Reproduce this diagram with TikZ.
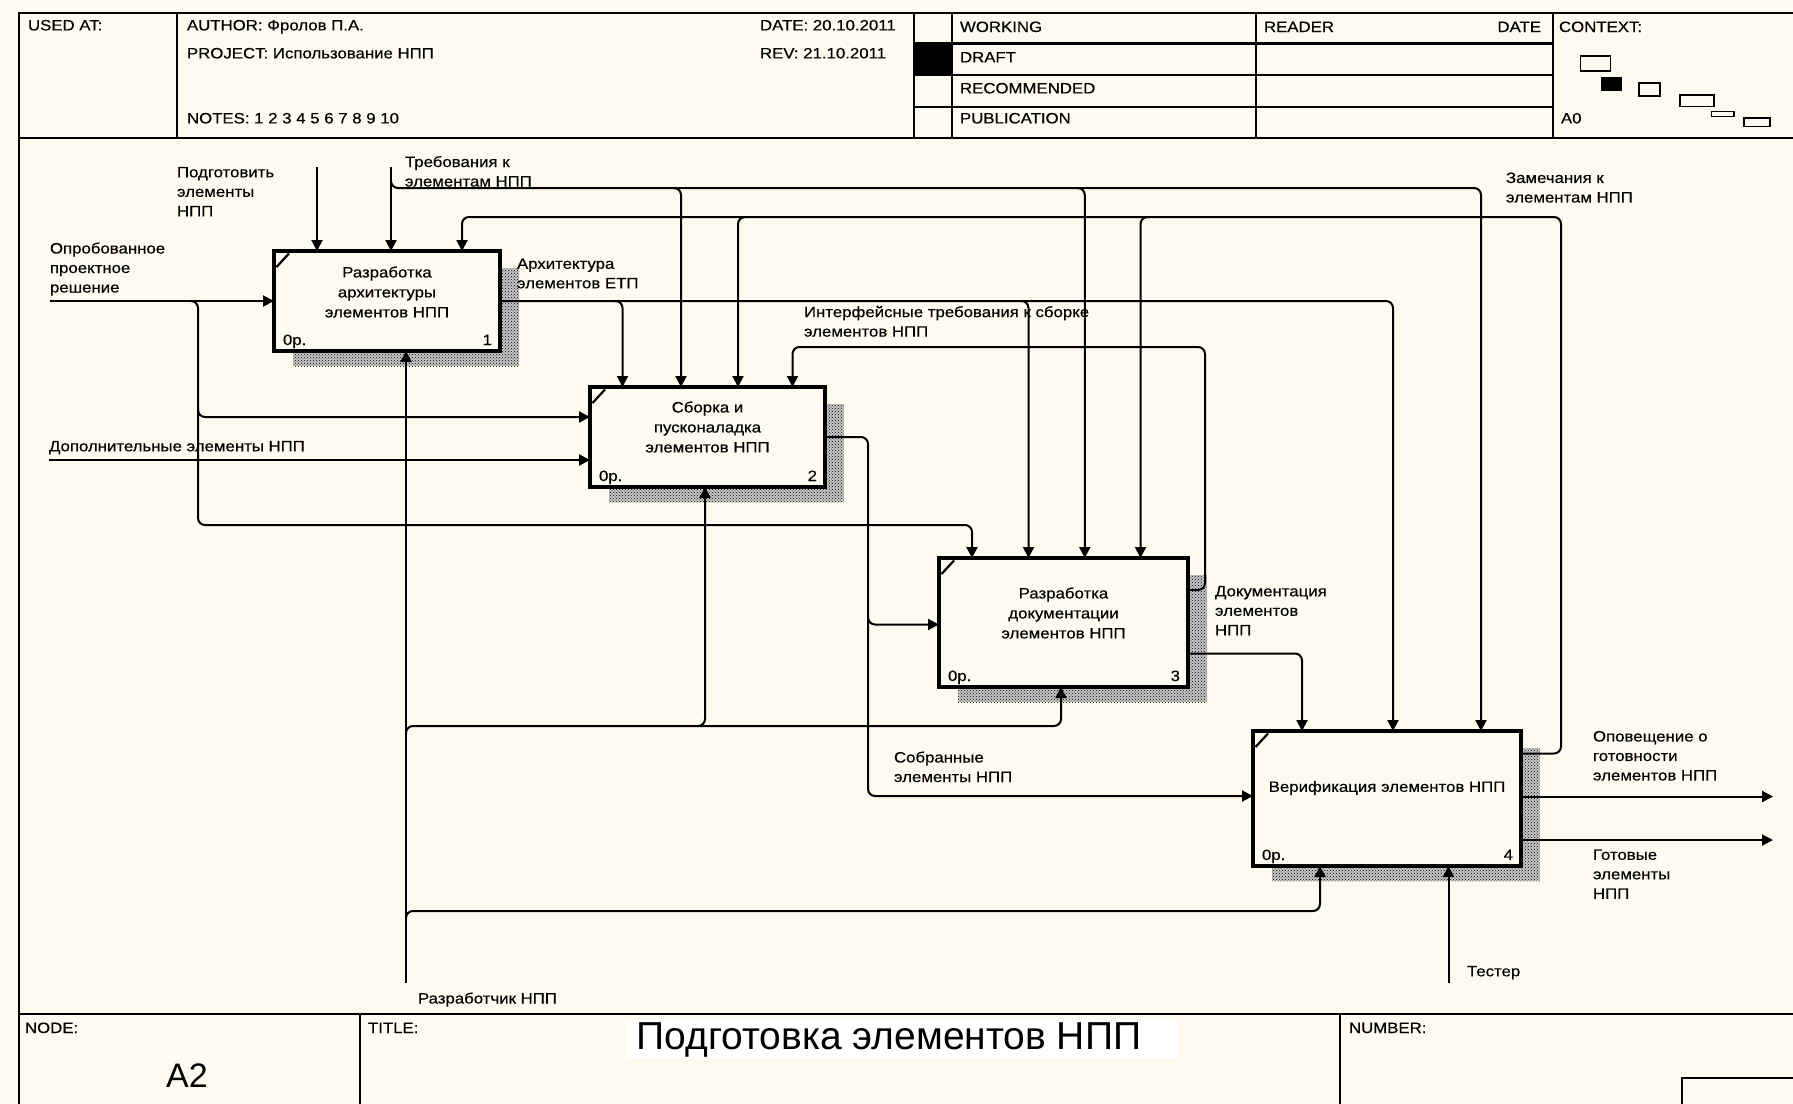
\documentclass[tikz,border=0pt]{standalone}
\usepackage{fontspec}
\setmainfont[FakeStretch=1.12,FakeBold=0.4]{Liberation Sans}
\newfontfamily\titlefont{Liberation Sans}
\usetikzlibrary{arrows.meta,patterns,calc}
\definecolor{paper}{RGB}{253,251,240}
\pgfdeclarelayer{bg}
\pgfdeclarelayer{shade}
\pgfsetlayers{bg,shade,main}
\begin{document}
\begin{tikzpicture}[x=1pt,y=-1pt,
  every node/.style={inner sep=0pt,outer sep=0pt},
  lbl/.style={font=\fontsize{15}{19.5}\selectfont,align=left,anchor=north west},
  boxtxt/.style={font=\fontsize{15}{20}\selectfont,align=center},
  hdr/.style={font=\fontsize{15}{18}\selectfont,anchor=base west},
  conn/.style={line width=2pt,rounded corners=7pt},
  arr/.style={conn,-{Triangle[length=11pt,width=11pt]}},
  frameline/.style={line width=2.2pt},
  ctxbox/.style={line width=1.4pt},
  fbox/.style 2 args={draw,line width=3.8pt,fill=paper,minimum width=#1,minimum height=#2}]
\useasboundingbox (0,0) rectangle (1793,1103);
\begin{pgfonlayer}{bg}
\fill[paper] (0,0) rectangle (1793,1103);
\fill[white] (627,1021) rectangle (1178,1058);
\end{pgfonlayer}

% frame
\begin{scope}
\clip (0,0) rectangle (1793,1103);
\draw[frameline] (1800,13) -- (19,13) -- (19,1110);
\draw[frameline] (19,138) -- (1800,138);
\draw[frameline] (19,1014) -- (1800,1014);
\draw[frameline] (177,13) -- (177,138);
\draw[frameline] (914,13) -- (914,138);
\draw[frameline] (952,13) -- (952,138);
\draw[frameline] (1256,13) -- (1256,138);
\draw[frameline] (1553,13) -- (1553,138);
\draw[frameline] (914,43.5) -- (1553,43.5);
\draw[frameline] (914,75) -- (1553,75);
\draw[frameline] (914,107) -- (1553,107);
\fill (914,43.5) rectangle (952,75);
\draw[frameline] (360,1014) -- (360,1110);
\draw[frameline] (1340,1014) -- (1340,1110);
\draw[frameline] (1682,1110) -- (1682,1078) -- (1800,1078);
\end{scope}
% context
\draw[ctxbox] (1580.5,56) rectangle (1610.5,71);
\fill (1600.5,77) rectangle (1622,90.5);
\draw[ctxbox] (1639,83) rectangle (1660,96);
\draw[ctxbox] (1680,95) rectangle (1714,106.5);
\draw[ctxbox] (1711.5,111.5) rectangle (1734,116.5);
\draw[ctxbox] (1744,118) rectangle (1770,126.5);

% header texts
\node[hdr] (hUsed) at (28,30.4) {USED AT:};
\node[hdr] (hAuth) at (187,30.4) {AUTHOR: Фролов П.А.};
\node[hdr] (hProj) at (187,58.4) {PROJECT: Использование НПП};
\node[hdr] (hNotes) at (187,123.4) {NOTES: 1 2 3 4 5 6 7 8 9 10};
\node[hdr] (hDate) at (760,30.4) {DATE: 20.10.2011};
\node[hdr] (hRev) at (760,58.4) {REV: 21.10.2011};
\node[hdr] (hWork) at (960,32) {WORKING};
\node[hdr] (hDraft) at (960,62.4) {DRAFT};
\node[hdr] (hRec) at (960,93.4) {RECOMMENDED};
\node[hdr] (hPub) at (960,123.4) {PUBLICATION};
\node[hdr] (hRead) at (1264,32) {READER};
\node[hdr,anchor=base east] (hDate2) at (1541,32) {DATE};
\node[hdr] (hCtx) at (1559,32) {CONTEXT:};
\node[hdr] (hA0) at (1561,123.4) {A0};
\node[hdr] (hNode) at (25,1033) {NODE:};
\node[hdr] (hTitle) at (368,1033) {TITLE:};
\node[hdr] (hNum) at (1349,1033) {NUMBER:};
\node[font=\titlefont\fontsize{34}{40}\selectfont] (nA2) at (187,1076) {A2};
\node[font=\titlefont\fontsize{39}{44}\selectfont] (title) at (889,1040) {Подготовка элементов НПП};

% boxes
\node[fbox={226pt}{100pt}] (b1) at (387,301) {};
\node[fbox={235pt}{100pt}] (b2) at (707.5,437) {};
\node[fbox={249pt}{129pt}] (b3) at (1063.5,622.5) {};
\node[fbox={268pt}{135pt}] (b4) at (1387,798.5) {};
\begin{pgfonlayer}{shade}
\foreach \b in {b1,b2,b3,b4}{
  \fill[black!22] ($(\b.north west)+(19,17)$) rectangle ($(\b.south east)+(19,15)$);
  \fill[pattern=crosshatch dots,pattern color=black] ($(\b.north west)+(19,17)$) rectangle ($(\b.south east)+(19,15)$);
}
\end{pgfonlayer}
\foreach \b/\n in {b1/1,b2/2,b3/3,b4/4}{
  \draw[line width=2.2pt] ($(\b.north west)+(2.5,16)$) -- ($(\b.north west)+(15,2.5)$);
  \node[font=\fontsize{15}{18}\selectfont,anchor=base west] at ($(\b.south west)+(9,-6)$) {0р.};
  \node[font=\fontsize{15}{18}\selectfont,anchor=base east] at ($(\b.south east)+(-8,-6)$) {\n};
}
\node[boxtxt] (t1) at (387,292) {Разработка\\архитектуры\\элементов НПП};
\node[boxtxt] (t2) at (707.5,427) {Сборка и\\пусконаладка\\элементов НПП};
\node[boxtxt] (t3) at (1063.5,613) {Разработка\\документации\\элементов НПП};
\node[boxtxt] (t4) at (1387,788) {Верификация элементов НПП};

% free ends
\coordinate (sOpr) at (50,301);
\coordinate (sDop) at (49,460);
\coordinate (sPod) at (317,167);
\coordinate (sTreb) at (391,167);
\coordinate (sDev) at (406,983);
\coordinate (sTest) at (1448.5,983);
\coordinate (oOpov) at (1773,796.5);
\coordinate (oGot) at (1773,840);

% inputs
\draw[arr] (sOpr) -- (b1.west);
\draw[arr] (190,301) -| (198,525) -| ([xshift=-91.5pt]b3.north);
\draw[arr] (198,409) |- ([yshift=20pt]b2.west);
\draw[arr] (sDop) -- ([yshift=-23pt]b2.west);
% controls
\draw[arr] (sPod) -- ([xshift=-70pt]b1.north);
\draw[arr] (sTreb) -- ([xshift=4pt]b1.north);
\draw[arr] (391,180) |- (1481,188) -- ([xshift=94pt]b4.north);
\draw[arr] (673,188) -| ([xshift=-26.5pt]b2.north);
\draw[arr] (1077,188) -| ([xshift=21.3pt]b3.north);
% feedback remarks
\draw[arr] ([yshift=45pt]b4.east) -| (1561,217) -| ([xshift=75pt]b1.north);
\draw[arr] (746,217) -| ([xshift=30.5pt]b2.north);
\draw[arr] (1150,217) -| ([xshift=77pt]b3.north);
% architecture
\draw[arr] (b1.east) -| ([xshift=6pt]b4.north);
\draw[arr] (613,301) -| ([xshift=-85pt]b2.north);
\draw[arr] (1021,301) -| ([xshift=-35pt]b3.north);
% interface requirements
\draw[arr] ([yshift=32.5pt]b3.east) -| (1205,347) -| ([xshift=85pt]b2.north);
% assembled
\draw[arr] (b2.east) -| (868,796) -- ([yshift=2.5pt]b4.west);
\draw[arr] (868,617) |- ([yshift=-2pt]b3.west);
% documentation
\draw[arr] ([yshift=-31pt]b3.east) -| ([xshift=-85pt]b4.north);
% developer
\draw[arr] (sDev) -- ([xshift=19pt]b1.south);
\draw[arr] (406,734) |- (1061,726) -- ([xshift=-2.5pt]b3.south);
\draw[arr] (697,726) -| ([xshift=-2.5pt]b2.south);
\draw[arr] (406,919) |- (1320,911) -- ([xshift=-67pt]b4.south);
% tester
\draw[arr] (sTest) -- ([xshift=61.5pt]b4.south);
% outputs
\draw[arr] ([yshift=2pt]b4.east) -- (oOpov);
\draw[arr] ([yshift=-41.5pt]b4.east) -- (oGot);

% labels
\node[lbl] (lPod) at (177,167) {Подготовить\\элементы\\НПП};
\node[lbl] (lTreb) at (405,156) {Требования к\\элементам НПП};
\node[lbl] (lOpr) at (50,242.5) {Опробованное\\проектное\\решение};
\node[lbl] (lArch) at (517,258.5) {Архитектура\\элементов ЕТП};
\node[lbl] (lInt) at (804,306) {Интерфейсные требования к сборке\\элементов НПП};
\node[lbl] (lZam) at (1506,172.5) {Замечания к\\элементам НПП};
\node[lbl] (lDop) at (49,441) {Дополнительные элементы НПП};
\node[lbl] (lDoc) at (1215,586) {Документация\\элементов\\НПП};
\node[lbl] (lSob) at (894,751.5) {Собранные\\элементы НПП};
\node[lbl] (lOpov) at (1593,731) {Оповещение о\\готовности\\элементов НПП};
\node[lbl] (lGot) at (1593,849.5) {Готовые\\элементы\\НПП};
\node[lbl] (lTest) at (1467,966) {Тестер};
\node[lbl] (lDev) at (418,992.5) {Разработчик НПП};
\end{tikzpicture}
\end{document}
